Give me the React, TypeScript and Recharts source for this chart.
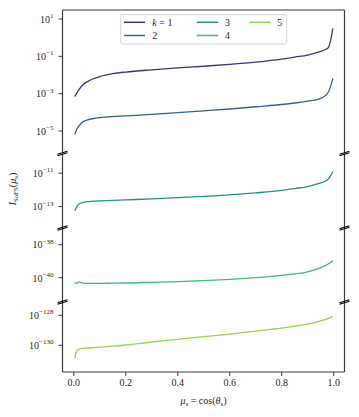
import React from 'react';
import { LineChart, Line, XAxis, YAxis, ReferenceLine } from 'recharts';

// mu_s = cos(theta_s) sample points
const MU = [0.004, 0.01, 0.02, 0.035, 0.05, 0.075, 0.1, 0.15, 0.2, 0.3, 0.4, 0.5, 0.6, 0.7, 0.8, 0.85, 0.9, 0.94, 0.97, 0.98, 0.997];

// log10 of I_SaFS(mu_s), one array per k
const K1_LOG10 = [-3.16, -3.0, -2.78, -2.52, -2.38, -2.2, -2.08, -1.93, -1.84, -1.72, -1.62, -1.53, -1.43, -1.31, -1.15, -1.04, -0.93, -0.78, -0.62, -0.52, 0.5];
const K2_LOG10 = [-5.18, -4.95, -4.72, -4.5, -4.42, -4.33, -4.28, -4.23, -4.19, -4.11, -4.02, -3.92, -3.82, -3.7, -3.58, -3.5, -3.4, -3.3, -3.08, -2.9, -2.18];
const K3_LOG10 = [-13.24, -13.05, -12.85, -12.75, -12.71, -12.68, -12.66, -12.63, -12.6, -12.54, -12.47, -12.39, -12.3, -12.18, -12.03, -11.92, -11.8, -11.63, -11.45, -11.34, -10.9];
const K4_LOG10 = [-40.28, -40.36, -40.25, -40.33, -40.34, -40.34, -40.34, -40.33, -40.32, -40.28, -40.24, -40.18, -40.1, -40.0, -39.86, -39.77, -39.64, -39.45, -39.25, -39.15, -38.98];
const K5_LOG10 = [-130.89, -130.4, -130.25, -130.2, -130.18, -130.15, -130.12, -130.06, -129.98, -129.78, -129.6, -129.42, -129.25, -129.05, -128.86, -128.72, -128.58, -128.42, -128.27, -128.2, -128.07];

const SERIES_KEYS = ['k1', 'k2', 'k3', 'k4', 'k5'];
const SERIES_LABELS = ['= 1', '2', '3', '4', '5'];
const SERIES_COLORS = ['#472f7d', '#33638d', '#21918c', '#3bbb75', '#8fd744'];

// panel definitions: which series, y-tick exponents, y-limits (log10)
const PANEL_SERIES = [['k1', 'k2'], ['k3'], ['k4'], ['k5']];
const PANEL_TICK_EXPONENTS = [[1, -1, -3, -5], [-11, -13], [-38, -40], [-128, -130]];
const PANEL_LIMITS_LOG10 = [[-6.204, 1.482], [-14.317, -9.848], [-41.47, -36.99], [-131.78, -127.11]];

const X_TICKS = [0, 0.2, 0.4, 0.6, 0.8, 1.0];
const X_DOMAIN: [number, number] = [-0.0435, 1.0416];

const rows = MU.map((mu, i) => ({
  mu,
  k1: Math.pow(10, K1_LOG10[i]),
  k2: Math.pow(10, K2_LOG10[i]),
  k3: Math.pow(10, K3_LOG10[i]),
  k4: Math.pow(10, K4_LOG10[i]),
  k5: Math.pow(10, K5_LOG10[i]),
}));

const FONT = "'Liberation Serif', 'DejaVu Serif', serif";
const SPINE = '#3a3a3a';
const TEXT = '#262626';

// layout (page pixels)
const W = 359;
const PLOT_LEFT = 62.5;
const PLOT_RIGHT = 344.5;
const BOUNDS = [10, 153.5, 228, 302, 372];

const YTick = (props: any) => {
  const { x, y, payload } = props;
  const e = Math.round(Math.log10(payload.value));
  const s = e < 0 ? '\u2212' + Math.abs(e) : String(e);
  return (
    <text x={x} y={y + 3.8} textAnchor="end" fontFamily={FONT} fontSize={10} fill={TEXT}>
      <tspan>10</tspan>
      <tspan dy={-4.8} fontSize={7}>{s}</tspan>
    </text>
  );
};

const XTick = (props: any) => {
  const { x, y, payload } = props;
  return (
    <text x={x} y={y + 7.5} textAnchor="middle" fontFamily={FONT} fontSize={10} fill={TEXT}>
      {payload.value.toFixed(1)}
    </text>
  );
};

const Panel = ({ idx }: { idx: number }) => {
  const isFirst = idx === 0;
  const isLast = idx === 3;
  const top = isFirst ? 0 : BOUNDS[idx];
  const marginTop = isFirst ? BOUNDS[0] : 0;
  const plotH = BOUNDS[idx + 1] - BOUNDS[idx];
  const xAxisH = isLast ? 45 : 0;
  const h = marginTop + plotH + xAxisH;
  const [lo, hi] = PANEL_LIMITS_LOG10[idx];
  const domain = [Math.pow(10, lo), Math.pow(10, hi)];
  const ticks = PANEL_TICK_EXPONENTS[idx].map((e) => Math.pow(10, e));
  return (
    <div style={{ position: 'absolute', left: 0, top, width: W, height: h }}>
      <LineChart
        width={W}
        height={h}
        data={rows}
        margin={{ top: marginTop, right: W - PLOT_RIGHT, bottom: 0, left: 0 }}
      >
        <XAxis
          dataKey="mu"
          type="number"
          domain={X_DOMAIN}
          allowDataOverflow
          ticks={X_TICKS}
          interval={0}
          hide={!isLast}
          height={xAxisH}
          tickSize={4}
          tickMargin={2}
          axisLine={{ stroke: SPINE, strokeWidth: 1.2 }}
          tickLine={{ stroke: SPINE, strokeWidth: 1 }}
          tick={<XTick />}
        />
        <YAxis
          type="number"
          scale="log"
          domain={domain}
          allowDataOverflow
          ticks={ticks}
          interval={0}
          width={PLOT_LEFT}
          tickSize={4}
          tickMargin={5}
          axisLine={{ stroke: SPINE, strokeWidth: 1.2 }}
          tickLine={{ stroke: SPINE, strokeWidth: 1 }}
          tick={<YTick />}
        />
        <ReferenceLine x={X_DOMAIN[1]} stroke={SPINE} strokeWidth={1.2} ifOverflow="visible" />
        {isFirst && (
          <ReferenceLine y={domain[1]} stroke={SPINE} strokeWidth={1.2} ifOverflow="visible" />
        )}
        {PANEL_SERIES[idx].map((key) => {
          const si = SERIES_KEYS.indexOf(key);
          return (
            <Line
              key={key}
              dataKey={key}
              type="monotone"
              stroke={SERIES_COLORS[si]}
              strokeWidth={1.3}
              dot={false}
              isAnimationActive={false}
            />
          );
        })}
      </LineChart>
    </div>
  );
};

const BreakMark = ({ x, y }: { x: number; y: number }) => (
  <g stroke="#000" strokeWidth={1.1}>
    <line x1={x - 5} y1={y + 2.2} x2={x + 5} y2={y - 0.8} />
    <line x1={x - 5} y1={y + 0.8} x2={x + 5} y2={y - 2.2} />
  </g>
);

const LEGEND_LINE_X = [[124, 145], [196.7, 218.3], [249.3, 270.7]];
const LEGEND_TEXT_X = [152.3, 225, 277.3];
const LEGEND_ROW_Y = [22.3, 35.5];

const Overlay = () => (
  <svg width={W} height={417} style={{ position: 'absolute', left: 0, top: 0, pointerEvents: 'none' }}>
    {[BOUNDS[1], BOUNDS[2], BOUNDS[3]].map((y) => (
      <g key={y}>
        <BreakMark x={PLOT_LEFT} y={y} />
        <BreakMark x={PLOT_RIGHT} y={y} />
      </g>
    ))}
    {/* legend */}
    <rect x={120.7} y={14.7} width={166} height={29.3} rx={2} fill="#fff" fillOpacity={0.85} stroke="#d4d4d4" strokeWidth={1} />
    {SERIES_KEYS.map((k, i) => {
      const col = Math.floor(i / 2);
      const row = i % 2;
      const y = LEGEND_ROW_Y[row];
      return (
        <g key={k}>
          <line x1={LEGEND_LINE_X[col][0]} x2={LEGEND_LINE_X[col][1]} y1={y} y2={y} stroke={SERIES_COLORS[i]} strokeWidth={1.5} />
          <text x={LEGEND_TEXT_X[col]} y={y + 3.4} fontFamily={FONT} fontSize={10} fill={TEXT}>
            {i === 0 ? (
              <>
                <tspan fontStyle="italic">k</tspan>
                <tspan>{' ' + SERIES_LABELS[i]}</tspan>
              </>
            ) : (
              SERIES_LABELS[i]
            )}
          </text>
        </g>
      );
    })}
    {/* y label */}
    <text transform="translate(15.5,189) rotate(-90)" textAnchor="middle" fontFamily={FONT} fontSize={10} fill={TEXT}>
      <tspan fontStyle="italic">I</tspan>
      <tspan fontSize={7} dy={2}>SaFS</tspan>
      <tspan dy={-2}>(</tspan>
      <tspan fontStyle="italic">μ</tspan>
      <tspan fontSize={7} dy={2}>s</tspan>
      <tspan dy={-2}>)</tspan>
    </text>
    {/* x label */}
    <text x={203.5} y={404} textAnchor="middle" fontFamily={FONT} fontSize={10} fill={TEXT}>
      <tspan fontStyle="italic">μ</tspan>
      <tspan fontSize={7} dy={1.8}>s</tspan>
      <tspan dy={-1.8}>{' = cos('}</tspan>
      <tspan fontStyle="italic">θ</tspan>
      <tspan fontSize={7} dy={1.8}>s</tspan>
      <tspan dy={-1.8}>)</tspan>
    </text>
  </svg>
);

export default function App() {
  return (
    <div style={{ position: 'absolute', left: 0, top: 0, width: W, height: 417, background: '#fff' }}>
      {[0, 1, 2, 3].map((i) => (
        <Panel key={i} idx={i} />
      ))}
      <Overlay />
    </div>
  );
}
